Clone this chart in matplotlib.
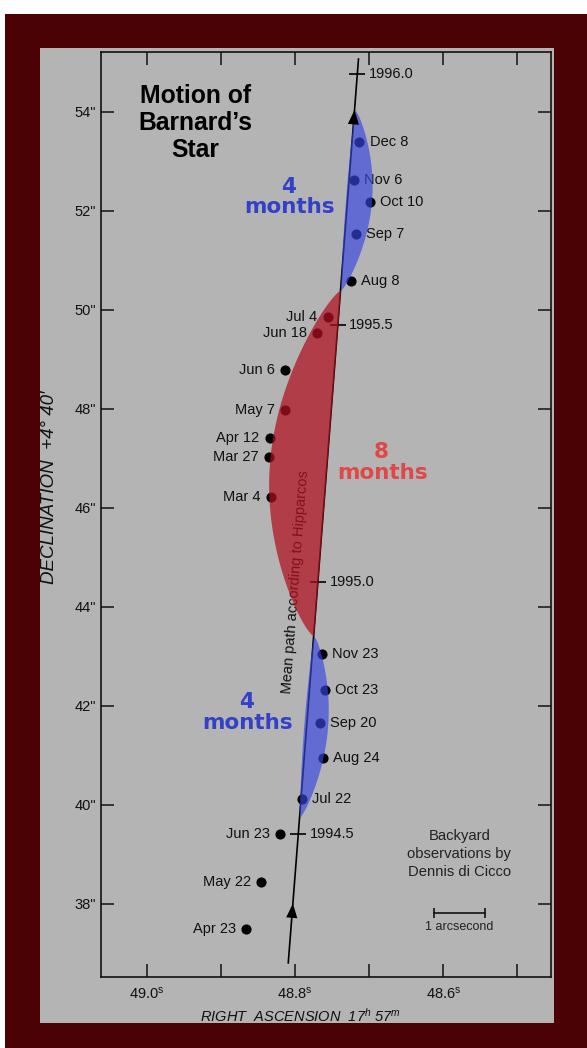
import numpy as np
import matplotlib
matplotlib.use('Agg')
import matplotlib.pyplot as plt
from matplotlib.patches import Rectangle

plt.rcParams['font.family'] = ['Liberation Sans', 'DejaVu Sans']
plt.rcParams['mathtext.default'] = 'regular'

# ---------------- data ----------------
obs_labels = ['Apr 23', 'May 22', 'Jun 23', 'Jul 22', 'Aug 24', 'Sep 20', 'Oct 23', 'Nov 23',
              'Mar 4', 'Mar 27', 'Apr 12', 'May 7', 'Jun 6', 'Jun 18', 'Jul 4',
              'Aug 8', 'Sep 7', 'Oct 10', 'Nov 6', 'Dec 8']
obs_ra = [48.8660, 48.8458, 48.8202, 48.7910, 48.7627, 48.7663, 48.7596, 48.7640,
          48.8327, 48.8346, 48.8337, 48.8135, 48.8135, 48.7699, 48.7559,
          48.7249, 48.7178, 48.6989, 48.7205, 48.7133]
obs_dec = [37.495, 38.438, 39.408, 40.121, 40.943, 41.651, 42.323, 43.044,
           46.216, 47.036, 47.408, 47.980, 48.788, 49.529, 49.853,
           50.592, 51.535, 52.176, 52.626, 53.400]
obs_side = ['L', 'L', 'L', 'R', 'R', 'R', 'R', 'R',
            'L', 'L', 'L', 'L', 'L', 'L', 'L',
            'R', 'R', 'R', 'R', 'R']

year_labels = ['1994.5', '1995.0', '1995.5', '1996.0']
year_ra = [48.7956, 48.7686, 48.7427, 48.7160]
year_dec = [39.414, 44.511, 49.697, 54.762]

path_ra = [48.8091, 48.7144]
path_dec = [36.81, 55.07]
arrow_dec = [38.01, 54.04]

# lenses between apparent and mean path: dec span, bulge east(left) / west(right) in seconds
lens_dec_lo = [39.758, 43.414, 50.404]
lens_dec_hi = [43.414, 50.404, 54.04]
lens_east = [0.004, 0.0777, 0.0027]
lens_west = [0.0283, 0.0, 0.0324]
lens_kind = ['blue', 'red', 'blue']

xtick_major = [49.0, 48.8, 48.6]
xtick_minor = [48.9, 48.7, 48.5]
ytick_vals = [38, 40, 42, 44, 46, 48, 50, 52, 54]

scale_bar_ra = [48.612, 48.544]
scale_bar_dec = 37.824

# ---------------- figure ----------------
W, H = 587, 1048
fig = plt.figure(figsize=(W / 100, H / 100), dpi=100, facecolor='white')

MAROON = '#4a0205'
GREY = '#b4b4b4'
fig.patches.append(Rectangle((5 / W, 0), (W - 5) / W, (H - 14) / H, transform=fig.transFigure,
                             facecolor=MAROON, edgecolor='none', zorder=-10))
fig.patches.append(Rectangle((40 / W, (H - 1023) / H), (554 - 40) / W, (1023 - 48) / H,
                             transform=fig.transFigure, facecolor=GREY, edgecolor='none',
                             zorder=-9))

AX_L, AX_R, AX_T, AX_B = 100.5, 550.7, 52, 977
ax = fig.add_axes([AX_L / W, (H - AX_B) / H, (AX_R - AX_L) / W, (AX_B - AX_T) / H])
ax.set_facecolor('none')
ax.set_xlim(49.0623, 48.4552)
ax.set_ylim(36.525, 55.212)


def pxa(px, py):
    return ((px - AX_L) / (AX_R - AX_L), (AX_B - py) / (AX_B - AX_T))


for s in ax.spines.values():
    s.set_linewidth(1.2)
    s.set_color('#111111')

ax.set_xticks(xtick_major)
ax.set_xticklabels([f'{v:.1f}$^{{s}}$' for v in xtick_major])
ax.set_xticks(xtick_minor, minor=True)
ax.set_yticks(ytick_vals)
ax.set_yticklabels([f'{v}"' for v in ytick_vals])
ax.tick_params(which='both', direction='in', length=9.5, width=1.1, top=True, right=True,
               labelsize=10.5, colors='#111111')
ax.tick_params(axis='x', pad=6)
ax.tick_params(axis='y', pad=3)

# mean path line
ax.plot(path_ra, path_dec, color='black', lw=1.2, zorder=2)
ax.plot(year_ra, year_dec, linestyle='none', marker='_', markersize=11, mew=1.2,
        color='black', zorder=2)
for lab, ra, dec in zip(year_labels, year_ra, year_dec):
    ax.annotate(lab, (ra, dec), xytext=(8, 0), textcoords='offset points',
                ha='left', va='center', fontsize=10.5, color='#111111', zorder=2)

# arrowheads along path
slope = (path_ra[1] - path_ra[0]) / (path_dec[1] - path_dec[0])
for d in arrow_dec:
    ra_tip = np.interp(d, path_dec, path_ra)
    ax.annotate('', xy=(ra_tip, d), xytext=(ra_tip - slope * 0.3, d - 0.3),
                arrowprops=dict(arrowstyle='-|>,head_length=0.9,head_width=0.35',
                                color='black', lw=0, mutation_scale=11.5, shrinkA=0, shrinkB=0),
                zorder=6)

# path text
ax.annotate('Mean path according to Hipparcos', (year_ra[1], year_dec[1]), xytext=(-16.5, 0),
            textcoords='offset points', rotation=85.6, rotation_mode='anchor',
            ha='center', va='center', fontsize=10.5, color='#111111', zorder=2)

# observation points and labels
ax.plot(obs_ra, obs_dec, linestyle='none', marker='o', markersize=6.3, color='black', zorder=3)
for lab, ra, dec, side in zip(obs_labels, obs_ra, obs_dec, obs_side):
    if side == 'L':
        ax.annotate(lab, (ra, dec), xytext=(-7.5, 0), textcoords='offset points',
                    ha='right', va='center', fontsize=10.5, color='#111111', zorder=3)
    else:
        ax.annotate(lab, (ra, dec), xytext=(7.5, 0), textcoords='offset points',
                    ha='left', va='center', fontsize=10.5, color='#111111', zorder=3)

# lenses
fill_colors = {'blue': ('#3646e2', 0.66), 'red': ('#b0101e', 0.72)}
for lo, hi, e, w, kind in zip(lens_dec_lo, lens_dec_hi, lens_east, lens_west, lens_kind):
    dec = np.linspace(lo, hi, 200)
    prof = np.sin(np.pi * (dec - lo) / (hi - lo)).clip(0) ** 0.75
    base = np.interp(dec, path_dec, path_ra)
    c, a = fill_colors[kind]
    ax.fill_betweenx(dec, base + e * prof, base - w * prof, color=c, alpha=a, lw=0, zorder=5)

# month labels
BLUE_T = '#3340c8'
RED_T = '#e04848'
for (px, py, txt, col) in [(288, 193.3, '4', BLUE_T), (290, 212.7, 'months', BLUE_T),
                           (246.7, 708.3, '4', BLUE_T), (247.8, 729.3, 'months', BLUE_T),
                           (381.7, 458.3, '8', RED_T), (382.5, 479.3, 'months', RED_T)]:
    ax.text(*pxa(px, py), txt, transform=ax.transAxes, ha='center', va='baseline',
            fontsize=15.5, fontweight='bold', color=col, family=['DejaVu Sans'], zorder=7)

# title
for py, txt in [(103, 'Motion of'), (130, 'Barnard\u2019s'), (157, 'Star')]:
    ax.text(*pxa(195.5, py), txt, transform=ax.transAxes, ha='center', va='baseline',
            fontsize=17.8, fontweight='bold', color='black', zorder=7)

# credit
for py, txt in [(835.7, 'Backyard'), (854.3, 'observations by'), (872.3, 'Dennis di Cicco')]:
    ax.text(*pxa(459.3, py), txt, transform=ax.transAxes, ha='center', va='center',
            fontsize=10.6, color='#222222', zorder=7)

# scale bar
ax.plot(scale_bar_ra, [scale_bar_dec] * 2, color='#111111', lw=1.2, zorder=7)
ax.plot(scale_bar_ra, [scale_bar_dec] * 2, linestyle='none', marker='|', markersize=7.5,
        mew=1.2, color='#111111', zorder=7)
ax.text(*pxa(459.3, 927.3), '1 arcsecond', transform=ax.transAxes, ha='center', va='center',
        fontsize=9, color='#222222', zorder=7)

# axis labels
fig.text(300 / W, 1 - 1016 / H, 'RIGHT  ASCENSION  17$^{h}$ 57$^{m}$', ha='center', va='center',
         fontsize=10.5, style='italic', color='#111111')
fig.text(50 / W, 1 - 487 / H, 'DECLINATION  +4\u00b0 40\u2032', ha='center', va='center',
         rotation=90, fontsize=13.5, style='italic', color='#111111')

fig.savefig('out.png', dpi=100, facecolor=fig.get_facecolor())
